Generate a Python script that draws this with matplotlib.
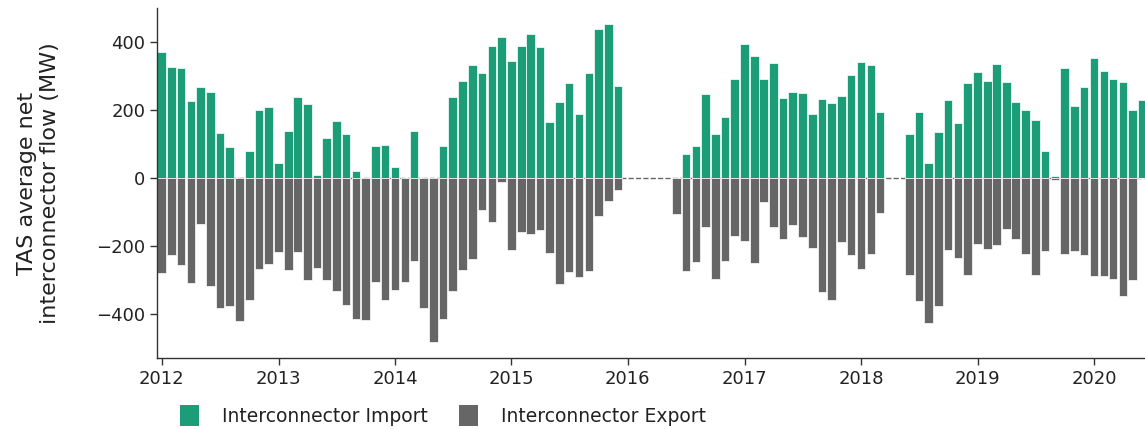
import matplotlib
matplotlib.use("Agg")
import matplotlib.pyplot as plt
from matplotlib.patches import Patch
import numpy as np
import pandas as pd

nan = np.nan

# monthly average flows (MW), Jan 2012 - Jun 2020, NaN = no data (Basslink outages)
imp2012 = [370, 327, 322, 225, 268, 253, 132, 91, 0, 78, 200, 207]
imp2013 = [44, 138, 238, 217, 9, 117, 167, 130, 19, 0, 93, 95]
imp2014 = [31, 0, 137, 0, 0, 94, 238, 284, 331, 308, 389, 414]
imp2015 = [344, 388, 422, 385, 163, 224, 280, 187, 308, 439, 453, 271]
imp2016 = [nan, nan, nan, nan, nan, 0, 69, 94, 247, 129, 179, 291]
imp2017 = [395, 360, 291, 339, 236, 254, 250, 188, 232, 221, 241, 304]
imp2018 = [341, 333, 195, nan, nan, 129, 195, 42, 134, 228, 162, 279]
imp2019 = [311, 286, 335, 283, 224, 200, 169, 78, 4, 322, 211, 268]
imp2020 = [353, 314, 290, 282, 200, 229]

exp2012 = [282, 229, 256, 311, 135, 318, 383, 377, 422, 360, 270, 255]
exp2013 = [218, 271, 218, 300, 266, 300, 333, 374, 416, 420, 307, 360]
exp2014 = [331, 308, 246, 385, 484, 415, 334, 273, 238, 95, 130, 14]
exp2015 = [214, 160, 165, 153, 223, 314, 279, 293, 274, 113, 69, 35]
exp2016 = [nan, nan, nan, nan, nan, 106, 274, 249, 145, 298, 245, 171]
exp2017 = [185, 251, 71, 145, 179, 140, 176, 207, 337, 360, 189, 228]
exp2018 = [268, 225, 103, nan, nan, 287, 362, 429, 378, 213, 237, 286]
exp2019 = [194, 210, 199, 152, 181, 226, 287, 215, 8, 225, 217, 228]
exp2020 = [290, 290, 297, 349, 301, 2]

imports = np.array(imp2012 + imp2013 + imp2014 + imp2015 + imp2016 + imp2017
                   + imp2018 + imp2019 + imp2020, dtype=float)
exports = -np.array(exp2012 + exp2013 + exp2014 + exp2015 + exp2016 + exp2017
                    + exp2018 + exp2019 + exp2020, dtype=float)
months = pd.date_range("2012-01-01", periods=len(imports), freq="MS")
years = [str(y) for y in range(2012, 2021)]

cImp = "#1b9e77"
cExp = "#666666"
txtC = "#222222"

fig = plt.figure(figsize=(11.45, 4.29), dpi=100)
ax = fig.add_axes([157/1145, 1-358/429, 1-157/1145, (358-8)/429])

ax.axhline(0, color=cExp, ls="--", lw=1.0, zorder=0)
ax.bar(months, imports, width=27, color=cImp, edgecolor="white", linewidth=0.5, zorder=2)
ax.bar(months, exports, width=27, color=cExp, edgecolor="white", linewidth=0.5, zorder=2)

ax.set_xlim(pd.Timestamp("2011-12-17"), pd.Timestamp("2020-06-09"))
ax.set_ylim(-531, 500)
ax.set_xticks([pd.Timestamp(y + "-01-01") for y in years])
ax.set_xticklabels(years)
ax.set_yticks([-400, -200, 0, 200, 400])

for s in ["top", "right"]:
	ax.spines[s].set_visible(False)
for s in ["left", "bottom"]:
	ax.spines[s].set_color("#333333")
	ax.spines[s].set_linewidth(1.0)
ax.tick_params(axis="both", labelsize=13, colors="#333333", labelcolor=txtC, length=5, width=1.0)
ax.set_ylabel("TAS average net\ninterconnector flow (MW)", fontsize=16, color=txtC, labelpad=26)

handles = [Patch(facecolor=cImp, label="Interconnector Import"),
           Patch(facecolor=cExp, label="Interconnector Export")]
fig.legend(handles=handles, loc="upper left", bbox_to_anchor=(171/1145, 1-396/429),
           ncol=2, frameon=False, fontsize=13.5, handlelength=1.0, handleheight=1.3,
           handletextpad=1.2, columnspacing=1.7, borderpad=0, labelcolor=txtC)

plt.savefig("out.png", dpi=100)
